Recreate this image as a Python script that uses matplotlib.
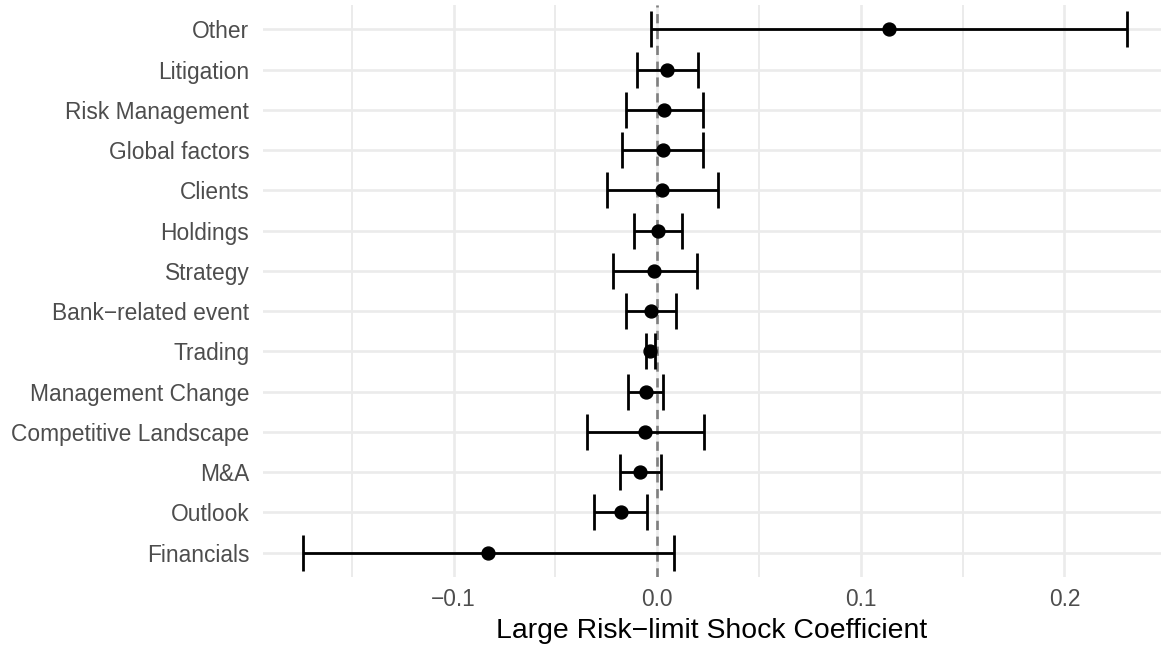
import matplotlib
matplotlib.use("Agg")
import matplotlib.pyplot as plt

# categories from top to bottom, as in the figure
categories = ["Other", "Litigation", "Risk Management", "Global factors", "Clients",
              "Holdings", "Strategy", "Bank\u2212related event", "Trading",
              "Management Change", "Competitive Landscape", "M&A", "Outlook", "Financials"]
estimate = [0.1138, 0.0049, 0.0035, 0.0027, 0.0025,
            0.0005, -0.0015, -0.0031, -0.0034,
            -0.0056, -0.0059, -0.0084, -0.0180, -0.0829]
ci_low = [-0.0030, -0.0102, -0.0155, -0.0175, -0.0246,
          -0.0113, -0.0219, -0.0154, -0.0056,
          -0.0143, -0.0344, -0.0183, -0.0310, -0.1741]
ci_high = [0.2307, 0.0202, 0.0226, 0.0226, 0.0300,
           0.0123, 0.0195, 0.0092, -0.0010,
           0.0030, 0.0228, 0.0018, -0.0052, 0.0081]

xticks = [-0.1, 0.0, 0.1, 0.2]
xtick_labels = ["\u22120.1", "0.0", "0.1", "0.2"]
xminor = [-0.15, -0.05, 0.05, 0.15]

plt.rcParams['font.family'] = ['Liberation Sans', 'DejaVu Sans']

fig = plt.figure(figsize=(11.61, 6.45), dpi=100)
ax = fig.add_axes([262.5 / 1161, 1 - 576.8 / 645, 1 - 262.5 / 1161, (576.8 - 5.15) / 645])

n = len(categories)
ypos = list(range(n, 0, -1))
xerr = [[e - lo for e, lo in zip(estimate, ci_low)],
        [hi - e for e, hi in zip(estimate, ci_high)]]

ax.axvline(0, color='#7f7f7f', lw=1.9, linestyle=(0, (3.5, 2.5)), zorder=2)
ax.errorbar(estimate, ypos, xerr=xerr, fmt='o', color='black', ms=9.3,
            elinewidth=2.0, capsize=13, capthick=2.0, zorder=3)

ax.set_xlim(-0.1939, 0.2474)
ax.set_ylim(0.4, n + 0.6)
ax.set_yticks(ypos)
ax.set_yticklabels(categories)
ax.set_xticks(xticks)
ax.set_xticklabels(xtick_labels)
ax.set_xticks(xminor, minor=True)

ax.grid(which='major', color='#ebebeb', lw=1.9, zorder=0)
ax.grid(which='minor', axis='x', color='#ebebeb', lw=1.4, zorder=0)
ax.set_axisbelow(True)
for s in ax.spines.values():
    s.set_visible(False)
ax.tick_params(which='both', length=0)
ax.tick_params(axis='y', labelsize=16.4, labelcolor='#4d4d4d', pad=9.5)
ax.tick_params(axis='x', labelsize=16.4, labelcolor='#4d4d4d', pad=8)

ax.set_xlabel("Large Risk\u2212limit Shock Coefficient", fontsize=20.4, color='black', labelpad=5)

fig.savefig("out.png", dpi=100)
